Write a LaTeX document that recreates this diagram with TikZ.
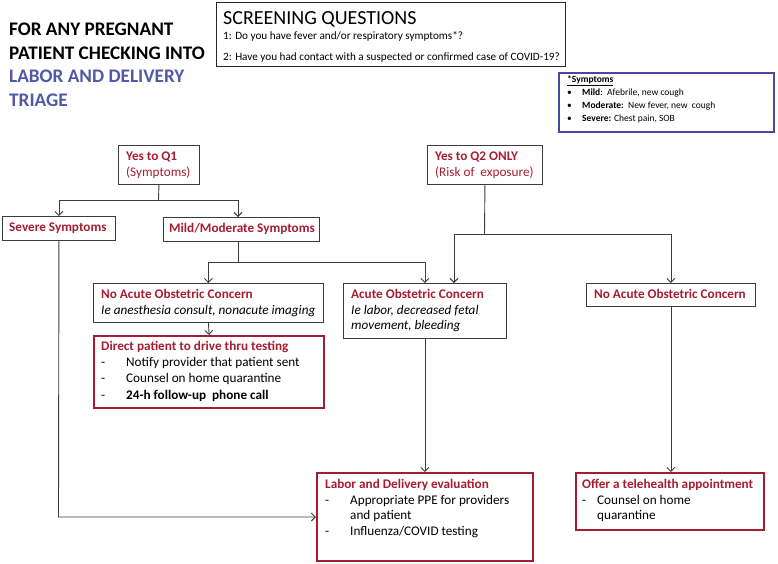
\documentclass[tikz,border=0pt]{standalone}
\usepackage{fontspec}
\setmainfont{Carlito}
\usetikzlibrary{arrows.meta}
\definecolor{ldred}{RGB}{166,28,48}
\definecolor{ldblue}{RGB}{80,88,168}
\definecolor{symblue}{RGB}{72,72,160}
\definecolor{lngray}{RGB}{60,60,60}
\newcommand{\dsh}[1]{\makebox[#1][l]{-}}
\begin{document}
\begin{tikzpicture}[x=1pt,y=-1pt,
  box/.style={draw=lngray, line width=0.9pt, inner sep=0pt, anchor=north west},
  redbox/.style={draw=ldred, line width=2.2pt, inner sep=0pt, anchor=north west},
  bluebox/.style={draw=symblue, line width=2.2pt, inner sep=0pt, anchor=north west},
  txt/.style={anchor=north west, inner sep=0pt, align=left, font=\fontsize{13.2}{15.7}\selectfont},
  conn/.style={draw=lngray, line width=0.9pt},
  arr/.style={conn, -{Straight Barb[length=4pt,width=8pt]}}]
\useasboundingbox (0,0) rectangle (778,563);

% title
\node[txt, font=\fontsize{19.2}{23.5}\selectfont\bfseries] (title) at (9,23)
  {FOR ANY PREGNANT\\PATIENT CHECKING INTO\\\textcolor{ldblue}{LABOR AND DELIVERY}\\\textcolor{ldblue}{TRIAGE}};

% screening questions
\node[box, draw=black!85, minimum width=349, minimum height=64] (scr) at (216,2) {};
\node[txt, font=\fontsize{20}{22}\selectfont] (scrt) at (223,11) {SCREENING QUESTIONS};
\node[txt, font=\fontsize{11.2}{21}\selectfont] (scrq) at (223,31)
  {1: Do you have fever and/or respiratory symptoms*?\\2: Have you had contact with a suspected or confirmed case of COVID-19?};

% symptoms legend
\node[bluebox, minimum width=215, minimum height=59] (sym) at (558,72) {};
\node[txt, font=\fontsize{9.5}{13}\selectfont] (symt) at (567,75)
  {\underline{\textbf{*Symptoms}}\\
   \makebox[15pt][l]{•}\textbf{Mild}:\ \ Afebrile, new cough\\
   \makebox[15pt][l]{•}\textbf{Moderate:}\ \ New fever, new\ \ cough\\
   \makebox[15pt][l]{•}\textbf{Severe:} Chest pain, SOB};

% Q1
\node[box, minimum width=81, minimum height=39] (q1) at (118,145) {};
\node[txt, text=ldred] (q1t) at (126,152) {\textbf{Yes to Q1}\\(Symptoms)};

% Q2
\node[box, minimum width=115, minimum height=39] (q2) at (427,145) {};
\node[txt, text=ldred] (q2t) at (435,152) {\textbf{Yes to Q2 ONLY}\\(Risk of\ \ exposure)};

% severe
\node[box, minimum width=113, minimum height=24] (sev) at (2,216) {};
\node[txt, text=ldred, font=\fontsize{13.2}{15.7}\selectfont\bfseries] (sevt) at (9,223) {Severe Symptoms};

% mild/moderate
\node[box, minimum width=156, minimum height=24] (mild) at (163,217) {};
\node[txt, text=ldred, font=\fontsize{13.2}{15.7}\selectfont\bfseries] (mildt) at (169,223) {Mild/Moderate Symptoms};

% no acute (left)
\node[box, minimum width=230, minimum height=39] (nal) at (93,283) {};
\node[txt] (nalt) at (101,289)
  {\textcolor{ldred}{\textbf{No Acute Obstetric Concern}}\\\textit{Ie anesthesia consult, nonacute imaging}};

% acute
\node[box, minimum width=163, minimum height=55] (ac) at (343,283) {};
\node[txt] (act) at (351,289)
  {\textcolor{ldred}{\textbf{Acute Obstetric Concern}}\\\textit{Ie labor, decreased fetal}\\\textit{movement, bleeding}};

% no acute (right)
\node[box, minimum width=169, minimum height=23] (nar) at (586,283) {};
\node[txt, text=ldred, font=\fontsize{13.2}{15.7}\selectfont\bfseries] (nart) at (594,289) {No Acute Obstetric Concern};

% direct patient
\node[redbox, minimum width=230, minimum height=72] (dir) at (93,335) {};
\node[txt, font=\fontsize{13.2}{16.2}\selectfont] (dirt) at (101,341)
  {\textcolor{ldred}{\textbf{Direct patient to drive thru testing}}\\
   \dsh{25pt}Notify provider that patient sent\\
   \dsh{25pt}Counsel on home quarantine\\
   \dsh{25pt}\textbf{24-h follow-up\ \ phone call}};

% labor and delivery evaluation
\node[redbox, minimum width=216, minimum height=88] (ld) at (316,472) {};
\node[txt] (ldt) at (325,479)
  {\textcolor{ldred}{\textbf{Labor and Delivery evaluation}}\\
   \dsh{25pt}Appropriate PPE for providers\\
   \hspace*{25pt}and patient\\
   \dsh{25pt}Influenza/COVID testing};

% telehealth
\node[redbox, minimum width=188, minimum height=57] (tel) at (575,472) {};
\node[txt] (telt) at (582,479)
  {\textcolor{ldred}{\textbf{Offer a telehealth appointment}}\\
   \dsh{15pt}Counsel on home\\
   \hspace*{15pt}quarantine};

% connectors
\coordinate (j1) at (158.5,200);
\coordinate (j2) at (238,262);
\coordinate (j3) at (484.5,234);
\coordinate (acin) at (454,283);
\coordinate (bend) at (58.5,517);

\draw[conn] (q1.south) -- (j1);
\draw[arr] (j1) -| (sev.north);
\draw[arr] (j1) -| (mild.north -| j2);
\draw[conn] (mild.south -| j2) -- (j2);
\draw[arr] (j2) -| (nal.north);
\draw[arr] (j2) -| (ac.north);
\draw[conn] (q2.south) -- (j3);
\draw[arr] (j3) -| (acin);
\draw[arr] (j3) -| (nar.north);
\draw[arr] (nal.south) -- (dir.north);
\draw[arr] (ac.south) -- (ld.north -| ac.south);
\draw[arr] (nar.south) -- (tel.north -| nar.south);
\draw[arr] (sev.south) -- (bend) -- (ld.west |- bend);
\end{tikzpicture}
\end{document}
